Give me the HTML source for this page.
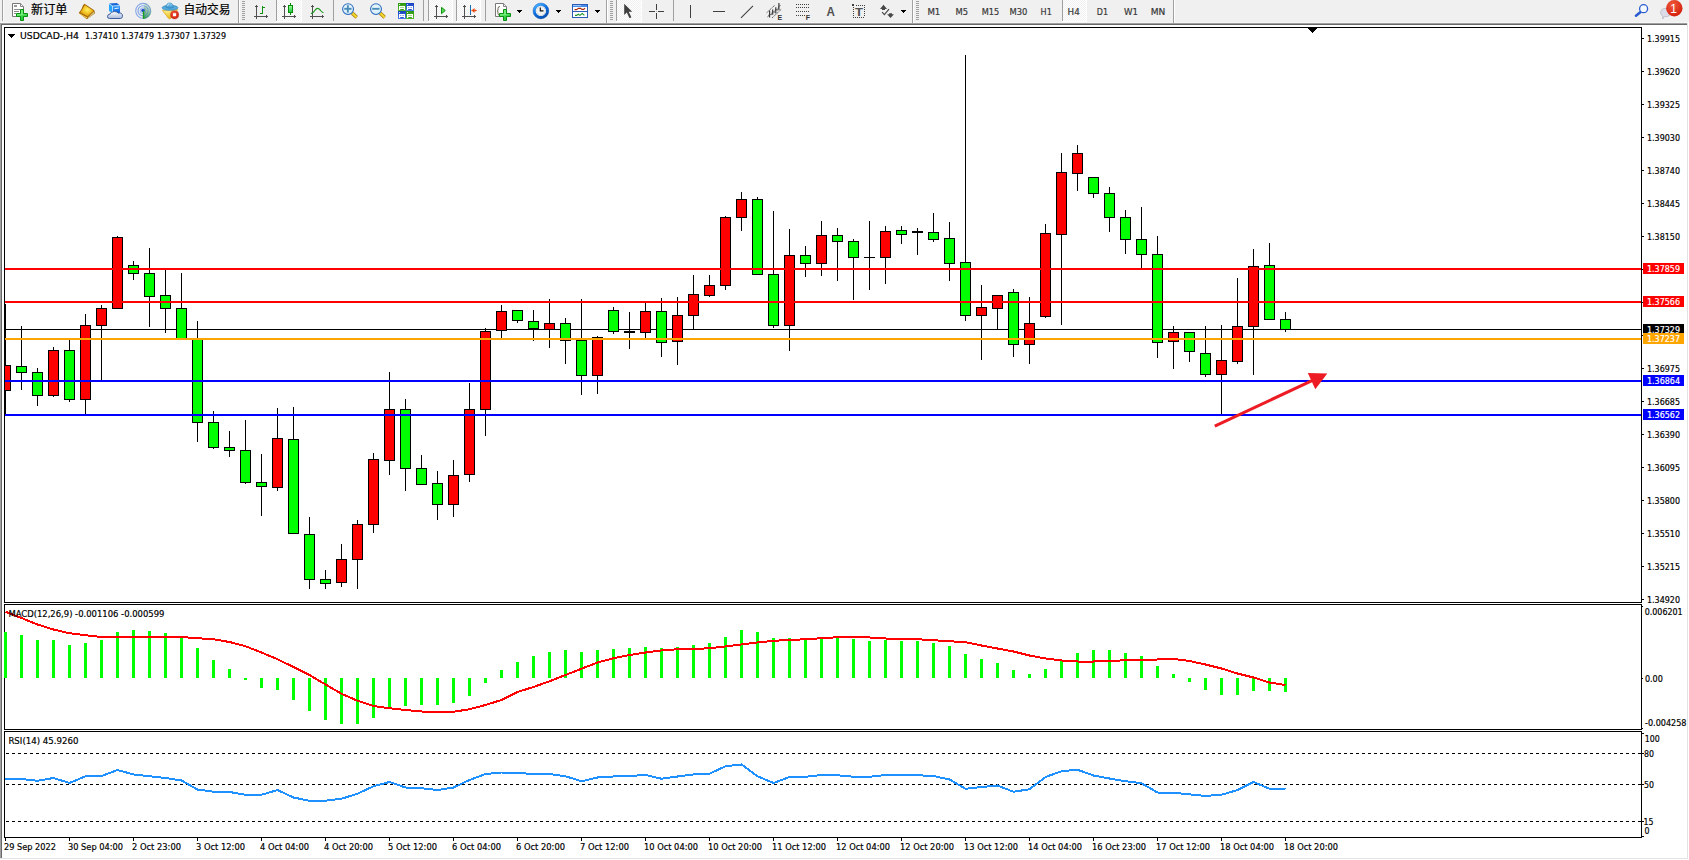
<!DOCTYPE html>
<html lang="zh-CN"><head><meta charset="utf-8"><title>USDCAD-,H4</title>
<style>html,body{margin:0;padding:0;background:#f0f0f0;overflow:hidden}svg{display:block}text{font-family:"Liberation Sans","Noto Sans CJK SC",sans-serif;white-space:pre}.ct text{stroke-width:.18px;font-family:"DejaVu Sans Condensed","DejaVu Sans","Liberation Sans",sans-serif;font-stretch:condensed}</style>
</head><body>
<svg width="1689" height="860" viewBox="0 0 1689 860">
<rect x="0" y="0" width="1689" height="860" fill="#f0f0f0"/>
<rect x="0" y="22" width="1689" height="1" fill="#f6f6f6"/>
<rect x="2" y="25" width="1685" height="833" fill="#fff"/>
<rect x="0" y="23" width="1687" height="1" fill="#a0a0a0"/>
<rect x="0" y="23" width="1" height="835" fill="#a0a0a0"/>
<rect x="1" y="24" width="1686" height="1" fill="#696969"/>
<rect x="1" y="24" width="1" height="834" fill="#696969"/>
<rect x="1687" y="23" width="1" height="836" fill="#e3e3e3"/>
<rect x="0" y="858" width="1688" height="1" fill="#e3e3e3"/>
<rect x="1688" y="22" width="1" height="838" fill="#fff"/>
<rect x="0" y="859" width="1689" height="1" fill="#fff"/>
<g shape-rendering="crispEdges">
<rect x="5" y="329" width="1636" height="1" fill="#000"/>
<rect x="5" y="304" width="1" height="112" fill="#000"/>
<rect x="5" y="365" width="6" height="26" fill="#000"/>
<rect x="5" y="366" width="5" height="24" fill="#ff0000"/>
<rect x="21" y="326" width="1" height="64" fill="#000"/>
<rect x="16" y="366" width="11" height="7" fill="#000"/>
<rect x="17" y="367" width="9" height="5" fill="#00ff00"/>
<rect x="37" y="368" width="1" height="38" fill="#000"/>
<rect x="32" y="372" width="11" height="24" fill="#000"/>
<rect x="33" y="373" width="9" height="22" fill="#00ff00"/>
<rect x="53" y="347" width="1" height="50" fill="#000"/>
<rect x="48" y="350" width="11" height="46" fill="#000"/>
<rect x="49" y="351" width="9" height="44" fill="#ff0000"/>
<rect x="69" y="340" width="1" height="62" fill="#000"/>
<rect x="64" y="350" width="11" height="50" fill="#000"/>
<rect x="65" y="351" width="9" height="48" fill="#00ff00"/>
<rect x="85" y="314" width="1" height="100" fill="#000"/>
<rect x="80" y="325" width="11" height="75" fill="#000"/>
<rect x="81" y="326" width="9" height="73" fill="#ff0000"/>
<rect x="101" y="305" width="1" height="75" fill="#000"/>
<rect x="96" y="308" width="11" height="18" fill="#000"/>
<rect x="97" y="309" width="9" height="16" fill="#ff0000"/>
<rect x="117" y="236" width="1" height="73" fill="#000"/>
<rect x="112" y="237" width="11" height="72" fill="#000"/>
<rect x="113" y="238" width="9" height="70" fill="#ff0000"/>
<rect x="133" y="261" width="1" height="19" fill="#000"/>
<rect x="128" y="265" width="11" height="9" fill="#000"/>
<rect x="129" y="266" width="9" height="7" fill="#00ff00"/>
<rect x="149" y="248" width="1" height="79" fill="#000"/>
<rect x="144" y="273" width="11" height="24" fill="#000"/>
<rect x="145" y="274" width="9" height="22" fill="#00ff00"/>
<rect x="165" y="270" width="1" height="63" fill="#000"/>
<rect x="160" y="295" width="11" height="14" fill="#000"/>
<rect x="161" y="296" width="9" height="12" fill="#00ff00"/>
<rect x="181" y="273" width="1" height="67" fill="#000"/>
<rect x="176" y="308" width="11" height="32" fill="#000"/>
<rect x="177" y="309" width="9" height="30" fill="#00ff00"/>
<rect x="197" y="321" width="1" height="121" fill="#000"/>
<rect x="192" y="338" width="11" height="85" fill="#000"/>
<rect x="193" y="339" width="9" height="83" fill="#00ff00"/>
<rect x="213" y="411" width="1" height="38" fill="#000"/>
<rect x="208" y="422" width="11" height="26" fill="#000"/>
<rect x="209" y="423" width="9" height="24" fill="#00ff00"/>
<rect x="229" y="431" width="1" height="26" fill="#000"/>
<rect x="224" y="447" width="11" height="4" fill="#000"/>
<rect x="225" y="448" width="9" height="2" fill="#00ff00"/>
<rect x="245" y="420" width="1" height="64" fill="#000"/>
<rect x="240" y="450" width="11" height="33" fill="#000"/>
<rect x="241" y="451" width="9" height="31" fill="#00ff00"/>
<rect x="261" y="454" width="1" height="62" fill="#000"/>
<rect x="256" y="482" width="11" height="5" fill="#000"/>
<rect x="257" y="483" width="9" height="3" fill="#00ff00"/>
<rect x="277" y="408" width="1" height="83" fill="#000"/>
<rect x="272" y="438" width="11" height="50" fill="#000"/>
<rect x="273" y="439" width="9" height="48" fill="#ff0000"/>
<rect x="293" y="407" width="1" height="127" fill="#000"/>
<rect x="288" y="439" width="11" height="95" fill="#000"/>
<rect x="289" y="440" width="9" height="93" fill="#00ff00"/>
<rect x="309" y="517" width="1" height="72" fill="#000"/>
<rect x="304" y="534" width="11" height="46" fill="#000"/>
<rect x="305" y="535" width="9" height="44" fill="#00ff00"/>
<rect x="325" y="570" width="1" height="19" fill="#000"/>
<rect x="320" y="579" width="11" height="5" fill="#000"/>
<rect x="321" y="580" width="9" height="3" fill="#00ff00"/>
<rect x="341" y="544" width="1" height="43" fill="#000"/>
<rect x="336" y="559" width="11" height="24" fill="#000"/>
<rect x="337" y="560" width="9" height="22" fill="#ff0000"/>
<rect x="357" y="520" width="1" height="69" fill="#000"/>
<rect x="352" y="524" width="11" height="36" fill="#000"/>
<rect x="353" y="525" width="9" height="34" fill="#ff0000"/>
<rect x="373" y="453" width="1" height="80" fill="#000"/>
<rect x="368" y="459" width="11" height="66" fill="#000"/>
<rect x="369" y="460" width="9" height="64" fill="#ff0000"/>
<rect x="389" y="372" width="1" height="103" fill="#000"/>
<rect x="384" y="409" width="11" height="52" fill="#000"/>
<rect x="385" y="410" width="9" height="50" fill="#ff0000"/>
<rect x="405" y="399" width="1" height="92" fill="#000"/>
<rect x="400" y="409" width="11" height="60" fill="#000"/>
<rect x="401" y="410" width="9" height="58" fill="#00ff00"/>
<rect x="421" y="455" width="1" height="30" fill="#000"/>
<rect x="416" y="468" width="11" height="17" fill="#000"/>
<rect x="417" y="469" width="9" height="15" fill="#00ff00"/>
<rect x="437" y="471" width="1" height="49" fill="#000"/>
<rect x="432" y="483" width="11" height="22" fill="#000"/>
<rect x="433" y="484" width="9" height="20" fill="#00ff00"/>
<rect x="453" y="460" width="1" height="57" fill="#000"/>
<rect x="448" y="475" width="11" height="30" fill="#000"/>
<rect x="449" y="476" width="9" height="28" fill="#ff0000"/>
<rect x="469" y="383" width="1" height="99" fill="#000"/>
<rect x="464" y="409" width="11" height="66" fill="#000"/>
<rect x="465" y="410" width="9" height="64" fill="#ff0000"/>
<rect x="485" y="328" width="1" height="108" fill="#000"/>
<rect x="480" y="331" width="11" height="79" fill="#000"/>
<rect x="481" y="332" width="9" height="77" fill="#ff0000"/>
<rect x="501" y="305" width="1" height="33" fill="#000"/>
<rect x="496" y="311" width="11" height="20" fill="#000"/>
<rect x="497" y="312" width="9" height="18" fill="#ff0000"/>
<rect x="517" y="310" width="1" height="13" fill="#000"/>
<rect x="512" y="310" width="11" height="11" fill="#000"/>
<rect x="513" y="311" width="9" height="9" fill="#00ff00"/>
<rect x="533" y="310" width="1" height="31" fill="#000"/>
<rect x="528" y="321" width="11" height="8" fill="#000"/>
<rect x="529" y="322" width="9" height="6" fill="#00ff00"/>
<rect x="549" y="299" width="1" height="49" fill="#000"/>
<rect x="544" y="323" width="11" height="7" fill="#000"/>
<rect x="545" y="324" width="9" height="5" fill="#ff0000"/>
<rect x="565" y="318" width="1" height="46" fill="#000"/>
<rect x="560" y="323" width="11" height="18" fill="#000"/>
<rect x="561" y="324" width="9" height="16" fill="#00ff00"/>
<rect x="581" y="299" width="1" height="96" fill="#000"/>
<rect x="576" y="340" width="11" height="36" fill="#000"/>
<rect x="577" y="341" width="9" height="34" fill="#00ff00"/>
<rect x="597" y="336" width="1" height="58" fill="#000"/>
<rect x="592" y="337" width="11" height="39" fill="#000"/>
<rect x="593" y="338" width="9" height="37" fill="#ff0000"/>
<rect x="613" y="307" width="1" height="27" fill="#000"/>
<rect x="608" y="310" width="11" height="22" fill="#000"/>
<rect x="609" y="311" width="9" height="20" fill="#00ff00"/>
<rect x="629" y="312" width="1" height="37" fill="#000"/>
<rect x="624" y="331" width="11" height="2" fill="#000"/>
<rect x="645" y="302" width="1" height="36" fill="#000"/>
<rect x="640" y="311" width="11" height="22" fill="#000"/>
<rect x="641" y="312" width="9" height="20" fill="#ff0000"/>
<rect x="661" y="298" width="1" height="59" fill="#000"/>
<rect x="656" y="311" width="11" height="32" fill="#000"/>
<rect x="657" y="312" width="9" height="30" fill="#00ff00"/>
<rect x="677" y="297" width="1" height="68" fill="#000"/>
<rect x="672" y="315" width="11" height="27" fill="#000"/>
<rect x="673" y="316" width="9" height="25" fill="#ff0000"/>
<rect x="693" y="275" width="1" height="55" fill="#000"/>
<rect x="688" y="294" width="11" height="22" fill="#000"/>
<rect x="689" y="295" width="9" height="20" fill="#ff0000"/>
<rect x="709" y="275" width="1" height="22" fill="#000"/>
<rect x="704" y="285" width="11" height="11" fill="#000"/>
<rect x="705" y="286" width="9" height="9" fill="#ff0000"/>
<rect x="725" y="216" width="1" height="74" fill="#000"/>
<rect x="720" y="217" width="11" height="69" fill="#000"/>
<rect x="721" y="218" width="9" height="67" fill="#ff0000"/>
<rect x="741" y="192" width="1" height="39" fill="#000"/>
<rect x="736" y="199" width="11" height="19" fill="#000"/>
<rect x="737" y="200" width="9" height="17" fill="#ff0000"/>
<rect x="757" y="197" width="1" height="78" fill="#000"/>
<rect x="752" y="199" width="11" height="76" fill="#000"/>
<rect x="753" y="200" width="9" height="74" fill="#00ff00"/>
<rect x="773" y="211" width="1" height="117" fill="#000"/>
<rect x="768" y="274" width="11" height="52" fill="#000"/>
<rect x="769" y="275" width="9" height="50" fill="#00ff00"/>
<rect x="789" y="229" width="1" height="122" fill="#000"/>
<rect x="784" y="255" width="11" height="71" fill="#000"/>
<rect x="785" y="256" width="9" height="69" fill="#ff0000"/>
<rect x="805" y="246" width="1" height="31" fill="#000"/>
<rect x="800" y="255" width="11" height="9" fill="#000"/>
<rect x="801" y="256" width="9" height="7" fill="#00ff00"/>
<rect x="821" y="221" width="1" height="55" fill="#000"/>
<rect x="816" y="235" width="11" height="29" fill="#000"/>
<rect x="817" y="236" width="9" height="27" fill="#ff0000"/>
<rect x="837" y="228" width="1" height="53" fill="#000"/>
<rect x="832" y="235" width="11" height="7" fill="#000"/>
<rect x="833" y="236" width="9" height="5" fill="#00ff00"/>
<rect x="853" y="239" width="1" height="61" fill="#000"/>
<rect x="848" y="241" width="11" height="17" fill="#000"/>
<rect x="849" y="242" width="9" height="15" fill="#00ff00"/>
<rect x="869" y="221" width="1" height="69" fill="#000"/>
<rect x="864" y="257" width="11" height="1" fill="#000"/>
<rect x="885" y="226" width="1" height="58" fill="#000"/>
<rect x="880" y="231" width="11" height="27" fill="#000"/>
<rect x="881" y="232" width="9" height="25" fill="#ff0000"/>
<rect x="901" y="226" width="1" height="18" fill="#000"/>
<rect x="896" y="230" width="11" height="5" fill="#000"/>
<rect x="897" y="231" width="9" height="3" fill="#00ff00"/>
<rect x="917" y="228" width="1" height="27" fill="#000"/>
<rect x="912" y="231" width="11" height="2" fill="#000"/>
<rect x="933" y="213" width="1" height="29" fill="#000"/>
<rect x="928" y="232" width="11" height="8" fill="#000"/>
<rect x="929" y="233" width="9" height="6" fill="#00ff00"/>
<rect x="949" y="222" width="1" height="59" fill="#000"/>
<rect x="944" y="238" width="11" height="26" fill="#000"/>
<rect x="945" y="239" width="9" height="24" fill="#00ff00"/>
<rect x="965" y="55" width="1" height="266" fill="#000"/>
<rect x="960" y="262" width="11" height="54" fill="#000"/>
<rect x="961" y="263" width="9" height="52" fill="#00ff00"/>
<rect x="981" y="285" width="1" height="75" fill="#000"/>
<rect x="976" y="307" width="11" height="9" fill="#000"/>
<rect x="977" y="308" width="9" height="7" fill="#ff0000"/>
<rect x="997" y="295" width="1" height="35" fill="#000"/>
<rect x="992" y="295" width="11" height="14" fill="#000"/>
<rect x="993" y="296" width="9" height="12" fill="#ff0000"/>
<rect x="1013" y="289" width="1" height="68" fill="#000"/>
<rect x="1008" y="292" width="11" height="53" fill="#000"/>
<rect x="1009" y="293" width="9" height="51" fill="#00ff00"/>
<rect x="1029" y="297" width="1" height="67" fill="#000"/>
<rect x="1024" y="323" width="11" height="22" fill="#000"/>
<rect x="1025" y="324" width="9" height="20" fill="#ff0000"/>
<rect x="1045" y="224" width="1" height="94" fill="#000"/>
<rect x="1040" y="233" width="11" height="84" fill="#000"/>
<rect x="1041" y="234" width="9" height="82" fill="#ff0000"/>
<rect x="1061" y="153" width="1" height="172" fill="#000"/>
<rect x="1056" y="172" width="11" height="63" fill="#000"/>
<rect x="1057" y="173" width="9" height="61" fill="#ff0000"/>
<rect x="1077" y="145" width="1" height="46" fill="#000"/>
<rect x="1072" y="153" width="11" height="21" fill="#000"/>
<rect x="1073" y="154" width="9" height="19" fill="#ff0000"/>
<rect x="1093" y="177" width="1" height="21" fill="#000"/>
<rect x="1088" y="177" width="11" height="17" fill="#000"/>
<rect x="1089" y="178" width="9" height="15" fill="#00ff00"/>
<rect x="1109" y="187" width="1" height="45" fill="#000"/>
<rect x="1104" y="193" width="11" height="25" fill="#000"/>
<rect x="1105" y="194" width="9" height="23" fill="#00ff00"/>
<rect x="1125" y="210" width="1" height="44" fill="#000"/>
<rect x="1120" y="217" width="11" height="23" fill="#000"/>
<rect x="1121" y="218" width="9" height="21" fill="#00ff00"/>
<rect x="1141" y="207" width="1" height="61" fill="#000"/>
<rect x="1136" y="239" width="11" height="16" fill="#000"/>
<rect x="1137" y="240" width="9" height="14" fill="#00ff00"/>
<rect x="1157" y="236" width="1" height="122" fill="#000"/>
<rect x="1152" y="254" width="11" height="89" fill="#000"/>
<rect x="1153" y="255" width="9" height="87" fill="#00ff00"/>
<rect x="1173" y="326" width="1" height="43" fill="#000"/>
<rect x="1168" y="332" width="11" height="10" fill="#000"/>
<rect x="1169" y="333" width="9" height="8" fill="#ff0000"/>
<rect x="1189" y="332" width="1" height="30" fill="#000"/>
<rect x="1184" y="332" width="11" height="20" fill="#000"/>
<rect x="1185" y="333" width="9" height="18" fill="#00ff00"/>
<rect x="1205" y="326" width="1" height="51" fill="#000"/>
<rect x="1200" y="353" width="11" height="22" fill="#000"/>
<rect x="1201" y="354" width="9" height="20" fill="#00ff00"/>
<rect x="1221" y="325" width="1" height="90" fill="#000"/>
<rect x="1216" y="360" width="11" height="15" fill="#000"/>
<rect x="1217" y="361" width="9" height="13" fill="#ff0000"/>
<rect x="1237" y="278" width="1" height="86" fill="#000"/>
<rect x="1232" y="326" width="11" height="36" fill="#000"/>
<rect x="1233" y="327" width="9" height="34" fill="#ff0000"/>
<rect x="1253" y="249" width="1" height="126" fill="#000"/>
<rect x="1248" y="266" width="11" height="61" fill="#000"/>
<rect x="1249" y="267" width="9" height="59" fill="#ff0000"/>
<rect x="1269" y="243" width="1" height="77" fill="#000"/>
<rect x="1264" y="265" width="11" height="55" fill="#000"/>
<rect x="1265" y="266" width="9" height="53" fill="#00ff00"/>
<rect x="1285" y="312" width="1" height="20" fill="#000"/>
<rect x="1280" y="319" width="11" height="11" fill="#000"/>
<rect x="1281" y="320" width="9" height="9" fill="#00ff00"/>
<rect x="5" y="268" width="1636" height="2" fill="#ff0000"/>
<rect x="5" y="301" width="1636" height="2" fill="#ff0000"/>
<rect x="5" y="338" width="1636" height="2" fill="#ffa500"/>
<rect x="5" y="380" width="1636" height="2" fill="#0000ff"/>
<rect x="5" y="414" width="1636" height="2" fill="#0000ff"/>
<rect x="4" y="27" width="1638" height="1" fill="#000"/>
<rect x="4" y="602" width="1638" height="1" fill="#000"/>
<rect x="4" y="27" width="1" height="576" fill="#000"/>
<rect x="1641" y="27" width="1" height="576" fill="#000"/>
<rect x="4" y="604" width="1638" height="1" fill="#000"/>
<rect x="4" y="729" width="1638" height="1" fill="#000"/>
<rect x="4" y="604" width="1" height="126" fill="#000"/>
<rect x="1641" y="604" width="1" height="126" fill="#000"/>
<rect x="4" y="731" width="1638" height="1" fill="#000"/>
<rect x="4" y="837" width="1638" height="1" fill="#000"/>
<rect x="4" y="731" width="1" height="107" fill="#000"/>
<rect x="1641" y="731" width="1" height="107" fill="#000"/>
<rect x="1308" y="28" width="9" height="1" fill="#000"/>
<rect x="1309" y="29" width="7" height="1" fill="#000"/>
<rect x="1310" y="30" width="5" height="1" fill="#000"/>
<rect x="1311" y="31" width="3" height="1" fill="#000"/>
<rect x="1312" y="32" width="1" height="1" fill="#000"/>
<rect x="8" y="34" width="7" height="1" fill="#000"/>
<rect x="9" y="35" width="5" height="1" fill="#000"/>
<rect x="10" y="36" width="3" height="1" fill="#000"/>
<rect x="11" y="37" width="1" height="1" fill="#000"/>
<rect x="1642" y="38" width="2" height="1" fill="#000"/>
<rect x="1642" y="71" width="2" height="1" fill="#000"/>
<rect x="1642" y="104" width="2" height="1" fill="#000"/>
<rect x="1642" y="137" width="2" height="1" fill="#000"/>
<rect x="1642" y="170" width="2" height="1" fill="#000"/>
<rect x="1642" y="203" width="2" height="1" fill="#000"/>
<rect x="1642" y="236" width="2" height="1" fill="#000"/>
<rect x="1642" y="269" width="2" height="1" fill="#000"/>
<rect x="1642" y="302" width="2" height="1" fill="#000"/>
<rect x="1642" y="335" width="2" height="1" fill="#000"/>
<rect x="1642" y="368" width="2" height="1" fill="#000"/>
<rect x="1642" y="401" width="2" height="1" fill="#000"/>
<rect x="1642" y="434" width="2" height="1" fill="#000"/>
<rect x="1642" y="467" width="2" height="1" fill="#000"/>
<rect x="1642" y="500" width="2" height="1" fill="#000"/>
<rect x="1642" y="533" width="2" height="1" fill="#000"/>
<rect x="1642" y="566" width="2" height="1" fill="#000"/>
<rect x="1642" y="599" width="2" height="1" fill="#000"/>
<rect x="1642" y="606" width="1" height="1" fill="#000"/>
<rect x="1642" y="678" width="1" height="1" fill="#000"/>
<rect x="1642" y="728" width="1" height="1" fill="#000"/>
<rect x="1642" y="733" width="2" height="1" fill="#000"/>
<rect x="1642" y="753" width="2" height="1" fill="#000"/>
<rect x="1642" y="784" width="2" height="1" fill="#000"/>
<rect x="1642" y="821" width="2" height="1" fill="#000"/>
<rect x="1642" y="836" width="2" height="1" fill="#000"/>
<rect x="1643" y="263" width="41" height="11" fill="#ff0000"/>
<rect x="1643" y="296" width="41" height="11" fill="#ff0000"/>
<rect x="1643" y="324" width="41" height="11" fill="#000000"/>
<rect x="1643" y="333" width="41" height="11" fill="#ffa500"/>
<rect x="1643" y="375" width="41" height="11" fill="#0000ff"/>
<rect x="1643" y="409" width="41" height="11" fill="#0000ff"/>
<rect x="4" y="632" width="3" height="46" fill="#00ff00"/>
<rect x="20" y="635" width="3" height="43" fill="#00ff00"/>
<rect x="36" y="640" width="3" height="38" fill="#00ff00"/>
<rect x="52" y="640" width="3" height="38" fill="#00ff00"/>
<rect x="68" y="645" width="3" height="33" fill="#00ff00"/>
<rect x="84" y="643" width="3" height="35" fill="#00ff00"/>
<rect x="100" y="640" width="3" height="38" fill="#00ff00"/>
<rect x="116" y="632" width="3" height="46" fill="#00ff00"/>
<rect x="132" y="630" width="3" height="48" fill="#00ff00"/>
<rect x="148" y="631" width="3" height="47" fill="#00ff00"/>
<rect x="164" y="633" width="3" height="45" fill="#00ff00"/>
<rect x="180" y="638" width="3" height="40" fill="#00ff00"/>
<rect x="196" y="648" width="3" height="30" fill="#00ff00"/>
<rect x="212" y="660" width="3" height="18" fill="#00ff00"/>
<rect x="228" y="669" width="3" height="9" fill="#00ff00"/>
<rect x="244" y="678" width="3" height="2" fill="#00ff00"/>
<rect x="260" y="678" width="3" height="10" fill="#00ff00"/>
<rect x="276" y="678" width="3" height="12" fill="#00ff00"/>
<rect x="292" y="678" width="3" height="22" fill="#00ff00"/>
<rect x="308" y="678" width="3" height="33" fill="#00ff00"/>
<rect x="324" y="678" width="3" height="42" fill="#00ff00"/>
<rect x="340" y="678" width="3" height="46" fill="#00ff00"/>
<rect x="356" y="678" width="3" height="46" fill="#00ff00"/>
<rect x="372" y="678" width="3" height="40" fill="#00ff00"/>
<rect x="388" y="678" width="3" height="30" fill="#00ff00"/>
<rect x="404" y="678" width="3" height="28" fill="#00ff00"/>
<rect x="420" y="678" width="3" height="27" fill="#00ff00"/>
<rect x="436" y="678" width="3" height="27" fill="#00ff00"/>
<rect x="452" y="678" width="3" height="25" fill="#00ff00"/>
<rect x="468" y="678" width="3" height="18" fill="#00ff00"/>
<rect x="484" y="678" width="3" height="5" fill="#00ff00"/>
<rect x="500" y="670" width="3" height="8" fill="#00ff00"/>
<rect x="516" y="662" width="3" height="16" fill="#00ff00"/>
<rect x="532" y="656" width="3" height="22" fill="#00ff00"/>
<rect x="548" y="652" width="3" height="26" fill="#00ff00"/>
<rect x="564" y="650" width="3" height="28" fill="#00ff00"/>
<rect x="580" y="652" width="3" height="26" fill="#00ff00"/>
<rect x="596" y="650" width="3" height="28" fill="#00ff00"/>
<rect x="612" y="649" width="3" height="29" fill="#00ff00"/>
<rect x="628" y="648" width="3" height="30" fill="#00ff00"/>
<rect x="644" y="647" width="3" height="31" fill="#00ff00"/>
<rect x="660" y="648" width="3" height="30" fill="#00ff00"/>
<rect x="676" y="647" width="3" height="31" fill="#00ff00"/>
<rect x="692" y="645" width="3" height="33" fill="#00ff00"/>
<rect x="708" y="643" width="3" height="35" fill="#00ff00"/>
<rect x="724" y="637" width="3" height="41" fill="#00ff00"/>
<rect x="740" y="630" width="3" height="48" fill="#00ff00"/>
<rect x="756" y="632" width="3" height="46" fill="#00ff00"/>
<rect x="772" y="638" width="3" height="40" fill="#00ff00"/>
<rect x="788" y="638" width="3" height="40" fill="#00ff00"/>
<rect x="804" y="638" width="3" height="40" fill="#00ff00"/>
<rect x="820" y="637" width="3" height="41" fill="#00ff00"/>
<rect x="836" y="638" width="3" height="40" fill="#00ff00"/>
<rect x="852" y="639" width="3" height="39" fill="#00ff00"/>
<rect x="868" y="641" width="3" height="37" fill="#00ff00"/>
<rect x="884" y="640" width="3" height="38" fill="#00ff00"/>
<rect x="900" y="641" width="3" height="37" fill="#00ff00"/>
<rect x="916" y="641" width="3" height="37" fill="#00ff00"/>
<rect x="932" y="643" width="3" height="35" fill="#00ff00"/>
<rect x="948" y="646" width="3" height="32" fill="#00ff00"/>
<rect x="964" y="654" width="3" height="24" fill="#00ff00"/>
<rect x="980" y="659" width="3" height="19" fill="#00ff00"/>
<rect x="996" y="663" width="3" height="15" fill="#00ff00"/>
<rect x="1012" y="670" width="3" height="8" fill="#00ff00"/>
<rect x="1028" y="674" width="3" height="4" fill="#00ff00"/>
<rect x="1044" y="669" width="3" height="9" fill="#00ff00"/>
<rect x="1060" y="660" width="3" height="18" fill="#00ff00"/>
<rect x="1076" y="653" width="3" height="25" fill="#00ff00"/>
<rect x="1092" y="650" width="3" height="28" fill="#00ff00"/>
<rect x="1108" y="650" width="3" height="28" fill="#00ff00"/>
<rect x="1124" y="653" width="3" height="25" fill="#00ff00"/>
<rect x="1140" y="656" width="3" height="22" fill="#00ff00"/>
<rect x="1156" y="666" width="3" height="12" fill="#00ff00"/>
<rect x="1172" y="674" width="3" height="4" fill="#00ff00"/>
<rect x="1188" y="678" width="3" height="4" fill="#00ff00"/>
<rect x="1204" y="678" width="3" height="12" fill="#00ff00"/>
<rect x="1220" y="678" width="3" height="17" fill="#00ff00"/>
<rect x="1236" y="678" width="3" height="17" fill="#00ff00"/>
<rect x="1252" y="678" width="3" height="13" fill="#00ff00"/>
<rect x="1268" y="678" width="3" height="13" fill="#00ff00"/>
<rect x="1284" y="678" width="3" height="14" fill="#00ff00"/>
<path d="M6 753.5H1644" stroke="#000" stroke-width="1" stroke-dasharray="3 3" fill="none"/>
<path d="M6 784.5H1644" stroke="#000" stroke-width="1" stroke-dasharray="3 3" fill="none"/>
<path d="M6 821.5H1644" stroke="#000" stroke-width="1" stroke-dasharray="3 3" fill="none"/>
<rect x="5" y="838" width="1" height="3" fill="#000"/>
<rect x="69" y="838" width="1" height="3" fill="#000"/>
<rect x="133" y="838" width="1" height="3" fill="#000"/>
<rect x="197" y="838" width="1" height="3" fill="#000"/>
<rect x="261" y="838" width="1" height="3" fill="#000"/>
<rect x="325" y="838" width="1" height="3" fill="#000"/>
<rect x="389" y="838" width="1" height="3" fill="#000"/>
<rect x="453" y="838" width="1" height="3" fill="#000"/>
<rect x="517" y="838" width="1" height="3" fill="#000"/>
<rect x="581" y="838" width="1" height="3" fill="#000"/>
<rect x="645" y="838" width="1" height="3" fill="#000"/>
<rect x="709" y="838" width="1" height="3" fill="#000"/>
<rect x="773" y="838" width="1" height="3" fill="#000"/>
<rect x="837" y="838" width="1" height="3" fill="#000"/>
<rect x="901" y="838" width="1" height="3" fill="#000"/>
<rect x="965" y="838" width="1" height="3" fill="#000"/>
<rect x="1029" y="838" width="1" height="3" fill="#000"/>
<rect x="1093" y="838" width="1" height="3" fill="#000"/>
<rect x="1157" y="838" width="1" height="3" fill="#000"/>
<rect x="1221" y="838" width="1" height="3" fill="#000"/>
<rect x="1285" y="838" width="1" height="3" fill="#000"/>
<polyline points="5.5,611.75 21.5,618 37.5,624.5 53.5,629.5 69.5,633.25 85.5,635.25 101.5,637 117.5,637 133.5,637 149.5,637 165.5,637 181.5,637 197.5,638.25 213.5,639.25 229.5,642 245.5,646.25 261.5,652.5 277.5,659.25 293.5,667 309.5,675 325.5,684.5 341.5,693.75 357.5,700.75 373.5,706 389.5,708.25 405.5,710 421.5,711.5 437.5,711.75 453.5,711.75 469.5,709.25 485.5,705 501.5,700 517.5,692 533.5,687 549.5,681.25 565.5,675 581.5,668.75 597.5,662.5 613.5,658.25 629.5,655 645.5,652.5 661.5,650.5 677.5,649.25 693.5,649 709.5,648.25 725.5,646.5 741.5,644.5 757.5,642.5 773.5,640.75 789.5,640 805.5,639.25 821.5,638.25 837.5,637.25 853.5,637 869.5,637.5 885.5,638.5 901.5,639 917.5,639.25 933.5,640.25 949.5,641.25 965.5,642.25 981.5,645.5 997.5,648.5 1013.5,651.5 1029.5,655.5 1045.5,658.5 1061.5,660.5 1077.5,661.5 1093.5,661.5 1109.5,661 1125.5,660.25 1141.5,660 1157.5,659.5 1173.5,659 1189.5,661 1205.5,664.5 1221.5,668.5 1237.5,673.5 1253.5,677.5 1269.5,682.5 1285.5,685" fill="none" stroke="#ff0000" stroke-width="2" stroke-linejoin="round"/>
<polyline points="5.5,778.75 21.5,779 37.5,780.75 53.5,778 69.5,783 85.5,776.25 101.5,776 117.5,770 133.5,774.5 149.5,776.25 165.5,778 181.5,780.5 197.5,789.5 213.5,791.75 229.5,792 245.5,794.75 261.5,794.75 277.5,790 293.5,797.5 309.5,800.75 325.5,800.75 341.5,798.75 357.5,793.75 373.5,786.25 389.5,782 405.5,787.5 421.5,788.25 437.5,790 453.5,787.5 469.5,780 485.5,774 501.5,772.5 517.5,773.25 533.5,773.75 549.5,774 565.5,776.25 581.5,781.25 597.5,777.5 613.5,776.5 629.5,776 645.5,775 661.5,778.75 677.5,776.5 693.5,774.5 709.5,773.75 725.5,766.25 741.5,764.5 757.5,776.25 773.5,783 789.5,777 805.5,776.75 821.5,775 837.5,775.25 853.5,776.75 869.5,776.75 885.5,775 901.5,775 917.5,775.25 933.5,776 949.5,779.5 965.5,788.75 981.5,787 997.5,785.5 1013.5,791.75 1029.5,789.25 1045.5,777 1061.5,771.25 1077.5,769.75 1093.5,775.5 1109.5,778.5 1125.5,781.25 1141.5,783.25 1157.5,792.5 1173.5,792.75 1189.5,794.4 1205.5,795.9 1221.5,794.75 1237.5,790 1253.5,781.9 1269.5,788.75 1285.5,789" fill="none" stroke="#1e90ff" stroke-width="2" stroke-linejoin="round"/>
</g>
<path d="M1214.8 426.1L1312 380.6" stroke="#ed1c24" stroke-width="3" fill="none"/>
<path d="M1307.8 373.1L1327.3 373.4L1315.3 389.2Z" fill="#ed1c24"/>
<g class="ct">
<text x="1647" y="42" font-size="9" fill="#000" stroke="#000" textLength="33" lengthAdjust="spacingAndGlyphs" xml:space="preserve">1.39915</text>
<text x="1647" y="75" font-size="9" fill="#000" stroke="#000" textLength="33" lengthAdjust="spacingAndGlyphs" xml:space="preserve">1.39620</text>
<text x="1647" y="108" font-size="9" fill="#000" stroke="#000" textLength="33" lengthAdjust="spacingAndGlyphs" xml:space="preserve">1.39325</text>
<text x="1647" y="141" font-size="9" fill="#000" stroke="#000" textLength="33" lengthAdjust="spacingAndGlyphs" xml:space="preserve">1.39030</text>
<text x="1647" y="174" font-size="9" fill="#000" stroke="#000" textLength="33" lengthAdjust="spacingAndGlyphs" xml:space="preserve">1.38740</text>
<text x="1647" y="207" font-size="9" fill="#000" stroke="#000" textLength="33" lengthAdjust="spacingAndGlyphs" xml:space="preserve">1.38445</text>
<text x="1647" y="240" font-size="9" fill="#000" stroke="#000" textLength="33" lengthAdjust="spacingAndGlyphs" xml:space="preserve">1.38150</text>
<text x="1647" y="372" font-size="9" fill="#000" stroke="#000" textLength="33" lengthAdjust="spacingAndGlyphs" xml:space="preserve">1.36975</text>
<text x="1647" y="405" font-size="9" fill="#000" stroke="#000" textLength="33" lengthAdjust="spacingAndGlyphs" xml:space="preserve">1.36685</text>
<text x="1647" y="438" font-size="9" fill="#000" stroke="#000" textLength="33" lengthAdjust="spacingAndGlyphs" xml:space="preserve">1.36390</text>
<text x="1647" y="471" font-size="9" fill="#000" stroke="#000" textLength="33" lengthAdjust="spacingAndGlyphs" xml:space="preserve">1.36095</text>
<text x="1647" y="504" font-size="9" fill="#000" stroke="#000" textLength="33" lengthAdjust="spacingAndGlyphs" xml:space="preserve">1.35800</text>
<text x="1647" y="537" font-size="9" fill="#000" stroke="#000" textLength="33" lengthAdjust="spacingAndGlyphs" xml:space="preserve">1.35510</text>
<text x="1647" y="570" font-size="9" fill="#000" stroke="#000" textLength="33" lengthAdjust="spacingAndGlyphs" xml:space="preserve">1.35215</text>
<text x="1647" y="603" font-size="9" fill="#000" stroke="#000" textLength="33" lengthAdjust="spacingAndGlyphs" xml:space="preserve">1.34920</text>
<text x="1647" y="272" font-size="9" fill="#fff" stroke="#fff" textLength="33" lengthAdjust="spacingAndGlyphs" xml:space="preserve">1.37859</text>
<text x="1647" y="305" font-size="9" fill="#fff" stroke="#fff" textLength="33" lengthAdjust="spacingAndGlyphs" xml:space="preserve">1.37566</text>
<text x="1647" y="333" font-size="9" fill="#fff" stroke="#fff" textLength="33" lengthAdjust="spacingAndGlyphs" xml:space="preserve">1.37329</text>
<text x="1647" y="342" font-size="9" fill="#fff" stroke="#fff" textLength="33" lengthAdjust="spacingAndGlyphs" xml:space="preserve">1.37237</text>
<text x="1647" y="384" font-size="9" fill="#fff" stroke="#fff" textLength="33" lengthAdjust="spacingAndGlyphs" xml:space="preserve">1.36864</text>
<text x="1647" y="418" font-size="9" fill="#fff" stroke="#fff" textLength="33" lengthAdjust="spacingAndGlyphs" xml:space="preserve">1.36562</text>
<text x="1644.7" y="615" font-size="9" fill="#000" stroke="#000" textLength="38" lengthAdjust="spacingAndGlyphs" xml:space="preserve">0.006201</text>
<text x="1644.9" y="682" font-size="9" fill="#000" stroke="#000" textLength="18" lengthAdjust="spacingAndGlyphs" xml:space="preserve">0.00</text>
<text x="1645" y="726" font-size="9" fill="#000" stroke="#000" textLength="41.5" lengthAdjust="spacingAndGlyphs" xml:space="preserve">-0.004258</text>
<text x="1644.8" y="742" font-size="9" fill="#000" stroke="#000" textLength="15" lengthAdjust="spacingAndGlyphs" xml:space="preserve">100</text>
<text x="1643.9" y="757" font-size="9" fill="#000" stroke="#000" textLength="10" lengthAdjust="spacingAndGlyphs" xml:space="preserve">80</text>
<text x="1643.9" y="788" font-size="9" fill="#000" stroke="#000" textLength="10" lengthAdjust="spacingAndGlyphs" xml:space="preserve">50</text>
<text x="1643.5" y="825" font-size="9" fill="#000" stroke="#000" textLength="10" lengthAdjust="spacingAndGlyphs" xml:space="preserve">15</text>
<text x="1644.4" y="834" font-size="9" fill="#000" stroke="#000" textLength="5" lengthAdjust="spacingAndGlyphs" xml:space="preserve">0</text>
<text x="20" y="39" font-size="9" fill="#000" stroke="#000" textLength="59" lengthAdjust="spacingAndGlyphs" xml:space="preserve">USDCAD-,H4</text>
<text x="85" y="39" font-size="9" fill="#000" stroke="#000" textLength="33" lengthAdjust="spacingAndGlyphs" xml:space="preserve">1.37410</text>
<text x="121" y="39" font-size="9" fill="#000" stroke="#000" textLength="33" lengthAdjust="spacingAndGlyphs" xml:space="preserve">1.37479</text>
<text x="157" y="39" font-size="9" fill="#000" stroke="#000" textLength="33" lengthAdjust="spacingAndGlyphs" xml:space="preserve">1.37307</text>
<text x="193" y="39" font-size="9" fill="#000" stroke="#000" textLength="33" lengthAdjust="spacingAndGlyphs" xml:space="preserve">1.37329</text>
<text x="8.4" y="617" font-size="9" fill="#000" stroke="#000" textLength="156" lengthAdjust="spacingAndGlyphs" xml:space="preserve">MACD(12,26,9) -0.001106 -0.000599</text>
<text x="8.4" y="744" font-size="9" fill="#000" stroke="#000" textLength="70" lengthAdjust="spacingAndGlyphs" xml:space="preserve">RSI(14) 45.9260</text>
<text x="4" y="850" font-size="9" fill="#000" stroke="#000" textLength="52" lengthAdjust="spacingAndGlyphs" xml:space="preserve">29 Sep 2022</text>
<text x="68" y="850" font-size="9" fill="#000" stroke="#000" textLength="55" lengthAdjust="spacingAndGlyphs" xml:space="preserve">30 Sep 04:00</text>
<text x="132" y="850" font-size="9" fill="#000" stroke="#000" textLength="49" lengthAdjust="spacingAndGlyphs" xml:space="preserve">2 Oct 23:00</text>
<text x="196" y="850" font-size="9" fill="#000" stroke="#000" textLength="49" lengthAdjust="spacingAndGlyphs" xml:space="preserve">3 Oct 12:00</text>
<text x="260" y="850" font-size="9" fill="#000" stroke="#000" textLength="49" lengthAdjust="spacingAndGlyphs" xml:space="preserve">4 Oct 04:00</text>
<text x="324" y="850" font-size="9" fill="#000" stroke="#000" textLength="49" lengthAdjust="spacingAndGlyphs" xml:space="preserve">4 Oct 20:00</text>
<text x="388" y="850" font-size="9" fill="#000" stroke="#000" textLength="49" lengthAdjust="spacingAndGlyphs" xml:space="preserve">5 Oct 12:00</text>
<text x="452" y="850" font-size="9" fill="#000" stroke="#000" textLength="49" lengthAdjust="spacingAndGlyphs" xml:space="preserve">6 Oct 04:00</text>
<text x="516" y="850" font-size="9" fill="#000" stroke="#000" textLength="49" lengthAdjust="spacingAndGlyphs" xml:space="preserve">6 Oct 20:00</text>
<text x="580" y="850" font-size="9" fill="#000" stroke="#000" textLength="49" lengthAdjust="spacingAndGlyphs" xml:space="preserve">7 Oct 12:00</text>
<text x="644" y="850" font-size="9" fill="#000" stroke="#000" textLength="54" lengthAdjust="spacingAndGlyphs" xml:space="preserve">10 Oct 04:00</text>
<text x="708" y="850" font-size="9" fill="#000" stroke="#000" textLength="54" lengthAdjust="spacingAndGlyphs" xml:space="preserve">10 Oct 20:00</text>
<text x="772" y="850" font-size="9" fill="#000" stroke="#000" textLength="54" lengthAdjust="spacingAndGlyphs" xml:space="preserve">11 Oct 12:00</text>
<text x="836" y="850" font-size="9" fill="#000" stroke="#000" textLength="54" lengthAdjust="spacingAndGlyphs" xml:space="preserve">12 Oct 04:00</text>
<text x="900" y="850" font-size="9" fill="#000" stroke="#000" textLength="54" lengthAdjust="spacingAndGlyphs" xml:space="preserve">12 Oct 20:00</text>
<text x="964" y="850" font-size="9" fill="#000" stroke="#000" textLength="54" lengthAdjust="spacingAndGlyphs" xml:space="preserve">13 Oct 12:00</text>
<text x="1028" y="850" font-size="9" fill="#000" stroke="#000" textLength="54" lengthAdjust="spacingAndGlyphs" xml:space="preserve">14 Oct 04:00</text>
<text x="1092" y="850" font-size="9" fill="#000" stroke="#000" textLength="54" lengthAdjust="spacingAndGlyphs" xml:space="preserve">16 Oct 23:00</text>
<text x="1156" y="850" font-size="9" fill="#000" stroke="#000" textLength="54" lengthAdjust="spacingAndGlyphs" xml:space="preserve">17 Oct 12:00</text>
<text x="1220" y="850" font-size="9" fill="#000" stroke="#000" textLength="54" lengthAdjust="spacingAndGlyphs" xml:space="preserve">18 Oct 04:00</text>
<text x="1284" y="850" font-size="9" fill="#000" stroke="#000" textLength="54" lengthAdjust="spacingAndGlyphs" xml:space="preserve">18 Oct 20:00</text>
</g>
<g id="toolbar">
<defs>
<pattern id="chk" width="2" height="2" patternUnits="userSpaceOnUse"><rect width="2" height="2" fill="#fff"/><rect width="1" height="1" fill="#f0f0f0"/><rect x="1" y="1" width="1" height="1" fill="#f0f0f0"/></pattern>
<linearGradient id="gG" x1="0" y1="0" x2="0" y2="1"><stop offset="0" stop-color="#a0ffa0"/><stop offset="1" stop-color="#18c838"/></linearGradient>
<linearGradient id="gPlus" x1="0" y1="0" x2="1" y2="1"><stop offset="0" stop-color="#7dff7d"/><stop offset="1" stop-color="#00b418"/></linearGradient>
<radialGradient id="gGold" cx="0.55" cy="0.42" r="0.6"><stop offset="0" stop-color="#fff066"/><stop offset="0.5" stop-color="#f2c626"/><stop offset="1" stop-color="#d8960c"/></radialGradient>
<linearGradient id="gBlue" x1="0" y1="0" x2="0" y2="1"><stop offset="0" stop-color="#3aa0ff"/><stop offset="1" stop-color="#0a5fd8"/></linearGradient>
<linearGradient id="gCloud" x1="0" y1="0" x2="0" y2="1"><stop offset="0" stop-color="#ffffff"/><stop offset="1" stop-color="#a8b8d8"/></linearGradient>
<linearGradient id="gHat" x1="0" y1="0" x2="0" y2="1"><stop offset="0" stop-color="#8fd0f4"/><stop offset="1" stop-color="#3a8fd0"/></linearGradient>
<linearGradient id="gYel" x1="0" y1="0" x2="0" y2="1"><stop offset="0" stop-color="#fff29a"/><stop offset="1" stop-color="#e8b810"/></linearGradient>
<radialGradient id="gRed" cx="0.4" cy="0.3" r="0.8"><stop offset="0" stop-color="#f05a3a"/><stop offset="1" stop-color="#d01808"/></radialGradient>
<radialGradient id="gLens" cx="0.45" cy="0.4" r="0.7"><stop offset="0" stop-color="#f4fcff"/><stop offset="1" stop-color="#c4e6f8"/></radialGradient>
<linearGradient id="gGreenT" x1="0" y1="0" x2="0" y2="1"><stop offset="0" stop-color="#2c9810"/><stop offset="1" stop-color="#54bc30"/></linearGradient>
<linearGradient id="gBlueT" x1="0" y1="0" x2="0" y2="1"><stop offset="0" stop-color="#1840c0"/><stop offset="1" stop-color="#4c80ec"/></linearGradient>
<linearGradient id="gSig" x1="0" y1="1" x2="0.25" y2="0"><stop offset="0" stop-color="#249e24"/><stop offset=".5" stop-color="#84c684" stop-opacity=".9"/><stop offset="1" stop-color="#d4e6d4" stop-opacity=".7"/></linearGradient>
<linearGradient id="gClk" x1="0.2" y1="0" x2="0.8" y2="1"><stop offset="0" stop-color="#46acff"/><stop offset=".5" stop-color="#0c6cdc"/><stop offset="1" stop-color="#0a50b0"/></linearGradient>
</defs>
<rect x="2" y="0" width="1" height="21" fill="#a0a0a0"/>
<rect x="3" y="0" width="1" height="21" fill="#fafafa"/>
<path d="M12.5 3.5h8l3 3v10h-11z" fill="#fff" stroke="#787878"/>
<path d="M20.5 3.7v2.8h2.8" fill="#f4f4f4" stroke="#787878" stroke-width=".9"/>
<rect x="14" y="5" width="3" height="2" fill="#9a9a9a"/>
<rect x="14" y="9" width="6" height="1" fill="#8c8c8c"/>
<rect x="14" y="11" width="5" height="1" fill="#8c8c8c"/>
<rect x="14" y="13" width="2" height="1" fill="#8c8c8c"/>
<path d="M20.5 9.5h3v4h4v3h-4v4h-3v-4h-4v-3h4z" fill="url(#gPlus)" stroke="#0a8f14" stroke-width="1"/>
<path d="M21.4 10.4h1.2v4h-1.2zM17.4 14.4h9.2v.9h-9.2z" fill="#b8ffb8" opacity=".55"/>
<path d="M84.5 3.8L94.3 10.3L95.1 13.3L86.9 19.3L78.7 13.1Q82 9.4 83.1 5Z" fill="#a66808"/>
<path d="M88 17.4L93.9 11.4L94.4 13L88 18.5Z" fill="#ece2a8"/>
<path d="M88 17.95L94.1 12.2" stroke="#b89a48" stroke-width=".5"/>
<path d="M84.7 4.9L93.4 10.7L87.4 16.5L80 12.5Q83.2 8.6 84.7 4.9Z" fill="url(#gGold)"/>
<path d="M80 12.6L87.4 16.6" stroke="#9c6206" stroke-width=".6"/>
<path d="M79.7 13.5L87.3 17.6L87 18.5L79.9 14.3Z" fill="#f8d860"/>
<path d="M109 3.6L116.8 3L120 5.6L112.5 6Z" fill="#1666d8"/>
<path d="M109 3.8L112.5 6V13L109 11Z" fill="#24a6ff"/>
<path d="M112.5 6L120 5.6V13H112.5Z" fill="url(#gBlue)"/>
<path d="M109 3.7L112.5 6V13M112.5 6L120 5.6" fill="none" stroke="#d8f0ff" stroke-width=".7"/>
<path d="M114.3 8.3L118.8 7.4V8.4L114.3 9.3Z" fill="#e4f2ff"/>
<path d="M109.4 18.5Q107.3 18.5 107.5 16.3Q107.7 14.3 110 14Q110.8 11.5 114.6 11.5Q117.6 11.6 118.4 13.3Q120 12.4 121.4 13.4Q122.8 14.6 122.4 16.6Q122.2 18.5 120.4 18.5Z" fill="url(#gCloud)" stroke="#3e5e9e" stroke-width="1"/>
<circle cx="143.1" cy="10.8" r="8" fill="#e6eef8" opacity=".55"/>
<path d="M143.6 10.8V18.9A8.1 8.1 0 0 0 144.6 2.8Z" fill="url(#gSig)"/>
<circle cx="143.1" cy="10.8" r="7.4" fill="none" stroke="#4a7ad8" stroke-width="1.1" opacity=".6"/>
<circle cx="143.1" cy="10.8" r="5.1" fill="none" stroke="#4a7ad8" stroke-width="1.1" opacity=".65"/>
<circle cx="143.1" cy="10.8" r="3" fill="none" stroke="#4a7ad8" stroke-width="1" opacity=".5"/>
<circle cx="143" cy="10.6" r="1.8" fill="#2250d0"/>
<path d="M143.5 10.9v8" stroke="#1a9c1a" stroke-width="1.3"/>
<path d="M162.4 10.4L177.7 9.6L170.6 18.4Q169.6 19.3 168.6 18.4Z" fill="url(#gYel)" stroke="#d8a010" stroke-width=".7"/>
<ellipse cx="170" cy="7.8" rx="7.9" ry="2.5" fill="#56aadc" stroke="#2c86b8" stroke-width=".7"/>
<path d="M166 7.4Q166.2 3 169.7 3Q173.2 3 173.4 7.4Q169.7 9 166 7.4Z" fill="url(#gHat)" stroke="#2c86b8" stroke-width=".6"/>
<path d="M167.4 6Q167.8 4 169.4 3.9" stroke="#c8ecff" stroke-width=".9" fill="none" opacity=".8"/>
<circle cx="174.6" cy="14.8" r="4.1" fill="url(#gRed)" stroke="#b81808" stroke-width=".4"/>
<rect x="173" y="13.2" width="3.1" height="3" fill="#fff"/>
<g font-family='"Liberation Sans","Noto Sans CJK SC",sans-serif' font-size="12" fill="#000" stroke="#000" stroke-width=".2">
<text x="31" y="14.2" textLength="36.5" lengthAdjust="spacingAndGlyphs">新订单</text>
<text x="183.6" y="14.2" textLength="47" lengthAdjust="spacingAndGlyphs">自动交易</text>
</g>
<rect x="238" y="0" width="1" height="23" fill="#a0a0a0"/>
<rect x="239" y="0" width="1" height="23" fill="#fff"/>
<rect x="242" y="1" width="3" height="1" fill="#a0a0a0"/>
<rect x="242" y="3" width="3" height="1" fill="#a0a0a0"/>
<rect x="242" y="5" width="3" height="1" fill="#a0a0a0"/>
<rect x="242" y="7" width="3" height="1" fill="#a0a0a0"/>
<rect x="242" y="9" width="3" height="1" fill="#a0a0a0"/>
<rect x="242" y="11" width="3" height="1" fill="#a0a0a0"/>
<rect x="242" y="13" width="3" height="1" fill="#a0a0a0"/>
<rect x="242" y="15" width="3" height="1" fill="#a0a0a0"/>
<rect x="242" y="17" width="3" height="1" fill="#a0a0a0"/>
<rect x="242" y="19" width="3" height="1" fill="#a0a0a0"/>
<rect x="256" y="5" width="1" height="14" fill="#505050"/>
<rect x="255" y="6" width="3" height="1" fill="#505050"/>
<rect x="254" y="16" width="14" height="1" fill="#505050"/>
<rect x="266" y="15" width="1" height="3" fill="#505050"/>
<rect x="262" y="6" width="1" height="8" fill="#109010"/>
<rect x="263" y="7" width="2" height="1" fill="#109010"/>
<rect x="260" y="13" width="2" height="1" fill="#109010"/>
<rect x="277" y="0" width="24" height="21" fill="url(#chk)"/>
<rect x="276" y="0" width="1" height="21" fill="#a0a0a0"/>
<rect x="301" y="0" width="1" height="22" fill="#fff"/>
<rect x="276" y="21" width="25" height="1" fill="#fff"/>
<rect x="284" y="5" width="1" height="14" fill="#505050"/>
<rect x="283" y="6" width="3" height="1" fill="#505050"/>
<rect x="282" y="16" width="14" height="1" fill="#505050"/>
<rect x="294" y="15" width="1" height="3" fill="#505050"/>
<rect x="290" y="3" width="1" height="12" fill="#0a8a0a"/>
<rect x="288.5" y="5.5" width="4" height="7" fill="url(#gG)" stroke="#0a8a0a"/>
<rect x="312" y="5" width="1" height="14" fill="#505050"/>
<rect x="311" y="6" width="3" height="1" fill="#505050"/>
<rect x="310" y="16" width="14" height="1" fill="#505050"/>
<rect x="322" y="15" width="1" height="3" fill="#505050"/>
<path d="M311 13.6q2.4 -.6 4 -3.4q1.8 -2.6 3.4 -1.6q1.4 .8 2.6 2.4q1.2 1.4 2.4 1.6" fill="none" stroke="#189818" stroke-width="1.1"/>
<rect x="333" y="0" width="1" height="21" fill="#a0a0a0"/>
<path d="M352.15000000000003 13.1l4.6 4.3" stroke="#b08410" stroke-width="3.5" stroke-linecap="butt"/>
<path d="M352.35 13.3l4.2 3.9" stroke="#f4da30" stroke-width="1.9" stroke-linecap="butt"/>
<circle cx="348.05" cy="9.1" r="5.45" fill="url(#gLens)" stroke="#2a68bc" stroke-width="1.05"/>
<path d="M344.25 8.799999999999999h7.3" stroke="#4a8cb8" stroke-width="1.9"/>
<path d="M347.85 5.199999999999999v7.4" stroke="#4a8cb8" stroke-width="1.9"/>
<path d="M380.1 13.1l4.6 4.3" stroke="#b08410" stroke-width="3.5" stroke-linecap="butt"/>
<path d="M380.3 13.3l4.2 3.9" stroke="#f4da30" stroke-width="1.9" stroke-linecap="butt"/>
<circle cx="376" cy="9.1" r="5.45" fill="url(#gLens)" stroke="#2a68bc" stroke-width="1.05"/>
<path d="M372.2 8.799999999999999h7.3" stroke="#4a8cb8" stroke-width="1.9"/>
<rect x="398" y="3" width="8" height="8" fill="url(#gGreenT)"/>
<rect x="399" y="4" width="1" height="1" fill="#fff" opacity=".8"/>
<rect x="399" y="6" width="6" height="4" fill="#fff"/>
<rect x="400" y="7" width="4" height="1" fill="#a4dc8c"/>
<rect x="400.2" y="9" width="3.6" height="1" fill="#3a9e1c"/>
<rect x="406" y="3" width="8" height="8" fill="url(#gBlueT)"/>
<rect x="407" y="4" width="1" height="1" fill="#fff" opacity=".8"/>
<rect x="407" y="6" width="6" height="4" fill="#fff"/>
<rect x="408" y="7" width="1.4" height="1" fill="#8aa8f0"/>
<rect x="410.4" y="7" width="1.6" height="1" fill="#8aa8f0"/>
<rect x="408.2" y="9" width="3.6" height="1" fill="#2a54cc"/>
<rect x="398" y="11" width="8" height="8" fill="url(#gBlueT)"/>
<rect x="399" y="12" width="1" height="1" fill="#fff" opacity=".8"/>
<rect x="399" y="14" width="6" height="4" fill="#fff"/>
<rect x="400" y="15" width="1.4" height="1" fill="#8aa8f0"/>
<rect x="402.4" y="15" width="1.6" height="1" fill="#8aa8f0"/>
<rect x="400.2" y="17" width="3.6" height="1" fill="#2a54cc"/>
<rect x="406" y="11" width="8" height="8" fill="url(#gGreenT)"/>
<rect x="407" y="12" width="1" height="1" fill="#fff" opacity=".8"/>
<rect x="407" y="14" width="6" height="4" fill="#fff"/>
<rect x="408" y="15" width="4" height="1" fill="#a4dc8c"/>
<rect x="408.2" y="17" width="3.6" height="1" fill="#3a9e1c"/>
<rect x="423" y="0" width="1" height="21" fill="#a0a0a0"/>
<rect x="429" y="0" width="23" height="21" fill="url(#chk)"/>
<rect x="428" y="0" width="1" height="21" fill="#a0a0a0"/>
<rect x="452" y="0" width="1" height="22" fill="#fff"/>
<rect x="428" y="21" width="24" height="1" fill="#fff"/>
<rect x="436" y="5" width="1" height="14" fill="#505050"/>
<rect x="435" y="6" width="3" height="1" fill="#505050"/>
<rect x="434" y="16" width="14" height="1" fill="#505050"/>
<rect x="446" y="15" width="1" height="3" fill="#505050"/>
<path d="M441.5 7.3v6.4l3.8 -3.2z" fill="#58d858" stroke="#109010" stroke-width="1"/>
<rect x="457" y="0" width="23" height="21" fill="url(#chk)"/>
<rect x="456" y="0" width="1" height="21" fill="#a0a0a0"/>
<rect x="480" y="0" width="1" height="22" fill="#fff"/>
<rect x="456" y="21" width="24" height="1" fill="#fff"/>
<rect x="464" y="5" width="1" height="14" fill="#505050"/>
<rect x="463" y="6" width="3" height="1" fill="#505050"/>
<rect x="462" y="16" width="14" height="1" fill="#505050"/>
<rect x="474" y="15" width="1" height="3" fill="#505050"/>
<rect x="470" y="5" width="1" height="10" fill="#1a6ab0"/>
<path d="M471.5 10.5l3 -2.6v1.8h1.8v1.6h-1.8v1.8z" fill="#e84a10"/>
<path d="M471.5 10.5h5" stroke="#e84a10" stroke-width="1"/>
<rect x="485" y="0" width="1" height="21" fill="#a0a0a0"/>
<path d="M495.5 3.5h8l3 3v10h-11z" fill="#fff" stroke="#787878"/>
<path d="M503.5 3.7v2.8h2.8" fill="#f4f4f4" stroke="#787878" stroke-width=".9"/>
<path d="M500 6.5q-2 0 -2 2v1.5q0 1 -1 1q1 0 1 1v1.5q0 2 2 2" fill="none" stroke="#6a6450" stroke-width="1"/>
<path d="M503.5 9.5h3v4h4v3h-4v4h-3v-4h-4v-3h4z" fill="url(#gPlus)" stroke="#0a8f14" stroke-width="1"/>
<path d="M504.4 10.4h1.2v4h-1.2zM500.4 14.4h9.2v.9h-9.2z" fill="#b8ffb8" opacity=".55"/>
<rect x="517" y="10" width="5" height="1" fill="#000"/>
<rect x="518" y="11" width="3" height="1" fill="#000"/>
<rect x="519" y="12" width="1" height="1" fill="#000"/>
<circle cx="540.9" cy="10.9" r="6.6" fill="#f2f2f2" stroke="url(#gClk)" stroke-width="2.8"/>
<circle cx="540.9" cy="10.9" r="7.9" fill="none" stroke="#0848a8" stroke-width=".4" opacity=".8"/>
<circle cx="545.2" cy="10.9" r=".35" fill="#888"/>
<circle cx="544.6" cy="13.1" r=".35" fill="#888"/>
<circle cx="543.0" cy="14.6" r=".35" fill="#888"/>
<circle cx="540.9" cy="15.2" r=".35" fill="#888"/>
<circle cx="538.8" cy="14.6" r=".35" fill="#888"/>
<circle cx="537.2" cy="13.1" r=".35" fill="#888"/>
<circle cx="536.6" cy="10.9" r=".35" fill="#888"/>
<circle cx="537.2" cy="8.8" r=".35" fill="#888"/>
<circle cx="538.8" cy="7.2" r=".35" fill="#888"/>
<circle cx="540.9" cy="6.6" r=".35" fill="#888"/>
<circle cx="543.0" cy="7.2" r=".35" fill="#888"/>
<circle cx="544.6" cy="8.7" r=".35" fill="#888"/>
<path d="M540.3 7.4v3.5h3.2" fill="none" stroke="#111" stroke-width="1.2"/>
<rect x="556" y="10" width="5" height="1" fill="#000"/>
<rect x="557" y="11" width="3" height="1" fill="#000"/>
<rect x="558" y="12" width="1" height="1" fill="#000"/>
<rect x="572.5" y="4.5" width="15" height="13" fill="#fff" stroke="#2a5cb8"/>
<rect x="573" y="5" width="14" height="2" fill="#4a8ae8"/>
<rect x="573" y="5" width="8" height="1" fill="#9cc4ff"/>
<rect x="573" y="11" width="14" height="1" fill="#2a5cb8"/>
<path d="M574.5 9.6h2l2 -1.2h2l1.4 1h1.6l1.6 -1.2" fill="none" stroke="#a82808" stroke-width="1.1"/>
<path d="M575 15.4h1.6l1.6 -1.2l1.8 1.2l2.2 -2l2.2 2" fill="none" stroke="#189028" stroke-width="1.1"/>
<rect x="595" y="10" width="5" height="1" fill="#000"/>
<rect x="596" y="11" width="3" height="1" fill="#000"/>
<rect x="597" y="12" width="1" height="1" fill="#000"/>
<rect x="606" y="0" width="1" height="23" fill="#a0a0a0"/>
<rect x="607" y="0" width="1" height="23" fill="#fff"/>
<rect x="610" y="1" width="3" height="1" fill="#a0a0a0"/>
<rect x="610" y="3" width="3" height="1" fill="#a0a0a0"/>
<rect x="610" y="5" width="3" height="1" fill="#a0a0a0"/>
<rect x="610" y="7" width="3" height="1" fill="#a0a0a0"/>
<rect x="610" y="9" width="3" height="1" fill="#a0a0a0"/>
<rect x="610" y="11" width="3" height="1" fill="#a0a0a0"/>
<rect x="610" y="13" width="3" height="1" fill="#a0a0a0"/>
<rect x="610" y="15" width="3" height="1" fill="#a0a0a0"/>
<rect x="610" y="17" width="3" height="1" fill="#a0a0a0"/>
<rect x="610" y="19" width="3" height="1" fill="#a0a0a0"/>
<rect x="617" y="0" width="24" height="21" fill="url(#chk)"/>
<rect x="616" y="0" width="1" height="21" fill="#a0a0a0"/>
<rect x="641" y="0" width="1" height="22" fill="#fff"/>
<rect x="616" y="21" width="25" height="1" fill="#fff"/>
<path d="M624.2 3.8v11.2l2.6 -2.4l2.7 5.6l1.9 -.9l-2.7 -5.5h3.5z" fill="#404040"/>
<rect x="649" y="11" width="6" height="1" fill="#404040"/>
<rect x="658" y="11" width="6" height="1" fill="#404040"/>
<rect x="656" y="4" width="1" height="6" fill="#404040"/>
<rect x="656" y="13" width="1" height="6" fill="#404040"/>
<rect x="656" y="11" width="1" height="1" fill="#b0b0b0"/>
<rect x="673" y="0" width="1" height="21" fill="#a0a0a0"/>
<rect x="690" y="5" width="1" height="13" fill="#404040"/>
<rect x="713" y="11" width="12" height="1" fill="#404040"/>
<path d="M741 17.8L753 5.8" stroke="#404040" stroke-width="1.1"/>
<g stroke="#404040" fill="none"><path d="M766.6 12.8L775 5M772 18L781.4 9.2" stroke-width=".8" stroke-dasharray="1.6 .6"/><path d="M769.6 10.4v7.2M772.7 9.4v5.4M775.8 7.3v6.2M778.9 3v7.2" stroke-width="1.15" stroke="#363636"/><path d="M767.6 17.2L769.6 14L771.2 15L772.7 11.2L774.3 12.6L775.8 9L777.4 10.4L778.9 6.2L780.6 5.4" stroke-width=".7"/></g>
<text x="777.6" y="19.9" font-family='"Liberation Sans",sans-serif' font-weight="bold" font-size="7" fill="#303030">E</text>
<rect x="796" y="4" width="1" height="1" fill="#404040"/>
<rect x="798" y="4" width="1" height="1" fill="#404040"/>
<rect x="800" y="4" width="1" height="1" fill="#404040"/>
<rect x="802" y="4" width="1" height="1" fill="#404040"/>
<rect x="804" y="4" width="1" height="1" fill="#404040"/>
<rect x="806" y="4" width="1" height="1" fill="#404040"/>
<rect x="808" y="4" width="1" height="1" fill="#404040"/>
<rect x="796" y="7" width="1" height="1" fill="#404040"/>
<rect x="798" y="7" width="1" height="1" fill="#404040"/>
<rect x="800" y="7" width="1" height="1" fill="#404040"/>
<rect x="802" y="7" width="1" height="1" fill="#404040"/>
<rect x="804" y="7" width="1" height="1" fill="#404040"/>
<rect x="806" y="7" width="1" height="1" fill="#404040"/>
<rect x="808" y="7" width="1" height="1" fill="#404040"/>
<rect x="796" y="11" width="1" height="1" fill="#404040"/>
<rect x="798" y="11" width="1" height="1" fill="#404040"/>
<rect x="800" y="11" width="1" height="1" fill="#404040"/>
<rect x="802" y="11" width="1" height="1" fill="#404040"/>
<rect x="804" y="11" width="1" height="1" fill="#404040"/>
<rect x="806" y="11" width="1" height="1" fill="#404040"/>
<rect x="808" y="11" width="1" height="1" fill="#404040"/>
<rect x="796" y="15" width="1" height="1" fill="#404040"/>
<rect x="798" y="15" width="1" height="1" fill="#404040"/>
<rect x="800" y="15" width="1" height="1" fill="#404040"/>
<rect x="802" y="15" width="1" height="1" fill="#404040"/>
<rect x="804" y="15" width="1" height="1" fill="#404040"/>
<text x="805.7" y="19.9" font-family='"Liberation Sans",sans-serif' font-weight="bold" font-size="7" fill="#303030">F</text>
<text x="826.4" y="16" font-family='"Liberation Sans",sans-serif' font-weight="bold" font-size="12.6" fill="#505050" textLength="8.4" lengthAdjust="spacingAndGlyphs">A</text>
<rect x="852" y="4" width="2" height="2" fill="#404040"/>
<rect x="856" y="5" width="1" height="1" fill="#404040"/>
<rect x="858" y="5" width="1" height="1" fill="#404040"/>
<rect x="860" y="5" width="1" height="1" fill="#404040"/>
<rect x="862" y="5" width="1" height="1" fill="#404040"/>
<rect x="864" y="5" width="1" height="1" fill="#404040"/>
<rect x="864" y="5" width="1" height="1" fill="#404040"/>
<rect x="864" y="7" width="1" height="1" fill="#404040"/>
<rect x="864" y="9" width="1" height="1" fill="#404040"/>
<rect x="864" y="11" width="1" height="1" fill="#404040"/>
<rect x="864" y="13" width="1" height="1" fill="#404040"/>
<rect x="864" y="15" width="1" height="1" fill="#404040"/>
<rect x="853" y="7" width="1" height="1" fill="#404040"/>
<rect x="853" y="9" width="1" height="1" fill="#404040"/>
<rect x="853" y="11" width="1" height="1" fill="#404040"/>
<rect x="853" y="13" width="1" height="1" fill="#404040"/>
<rect x="853" y="15" width="1" height="1" fill="#404040"/>
<rect x="853" y="17" width="1" height="1" fill="#404040"/>
<rect x="853" y="17" width="1" height="1" fill="#404040"/>
<rect x="855" y="17" width="1" height="1" fill="#404040"/>
<rect x="857" y="17" width="1" height="1" fill="#404040"/>
<rect x="859" y="17" width="1" height="1" fill="#404040"/>
<rect x="861" y="17" width="1" height="1" fill="#404040"/>
<rect x="863" y="17" width="1" height="1" fill="#404040"/>
<text x="855" y="15.8" font-family='"Liberation Sans",sans-serif' font-weight="bold" font-size="10.8" fill="#505050" textLength="8" lengthAdjust="spacingAndGlyphs">T</text>
<path d="M883.5 4.7L887 9H885V10.1H882V9H880Z" fill="#484848"/>
<path d="M882.1 12.2L884.4 14.6L889 9.2" fill="none" stroke="#484848" stroke-width="1.2"/>
<path d="M887.1 14.3H889.1V13.2H892V14.3H894L890.5 18Z" fill="#484848"/>
<rect x="901" y="10" width="5" height="1" fill="#000"/>
<rect x="902" y="11" width="3" height="1" fill="#000"/>
<rect x="903" y="12" width="1" height="1" fill="#000"/>
<rect x="912" y="0" width="1" height="23" fill="#a0a0a0"/>
<rect x="913" y="0" width="1" height="23" fill="#fff"/>
<rect x="916" y="1" width="3" height="1" fill="#a0a0a0"/>
<rect x="916" y="3" width="3" height="1" fill="#a0a0a0"/>
<rect x="916" y="5" width="3" height="1" fill="#a0a0a0"/>
<rect x="916" y="7" width="3" height="1" fill="#a0a0a0"/>
<rect x="916" y="9" width="3" height="1" fill="#a0a0a0"/>
<rect x="916" y="11" width="3" height="1" fill="#a0a0a0"/>
<rect x="916" y="13" width="3" height="1" fill="#a0a0a0"/>
<rect x="916" y="15" width="3" height="1" fill="#a0a0a0"/>
<rect x="916" y="17" width="3" height="1" fill="#a0a0a0"/>
<rect x="916" y="19" width="3" height="1" fill="#a0a0a0"/>
<rect x="1063" y="0" width="23" height="21" fill="url(#chk)"/>
<rect x="1062" y="0" width="1" height="21" fill="#a0a0a0"/>
<rect x="1086" y="0" width="1" height="22" fill="#fff"/>
<rect x="1062" y="21" width="24" height="1" fill="#fff"/>
<g class="ct" font-size="9" fill="#383838" stroke="#383838">
<text x="927.4" y="15" textLength="12.9" lengthAdjust="spacingAndGlyphs">M1</text>
<text x="955.6" y="15" textLength="12.5" lengthAdjust="spacingAndGlyphs">M5</text>
<text x="981.7" y="15" textLength="17.5" lengthAdjust="spacingAndGlyphs">M15</text>
<text x="1009.5" y="15" textLength="17.9" lengthAdjust="spacingAndGlyphs">M30</text>
<text x="1040.6" y="15" textLength="11.2" lengthAdjust="spacingAndGlyphs">H1</text>
<text x="1067.6" y="15" textLength="12.1" lengthAdjust="spacingAndGlyphs">H4</text>
<text x="1096.8" y="15" textLength="11.2" lengthAdjust="spacingAndGlyphs">D1</text>
<text x="1124" y="15" textLength="14.0" lengthAdjust="spacingAndGlyphs">W1</text>
<text x="1150.7" y="15" textLength="14.6" lengthAdjust="spacingAndGlyphs">MN</text>
</g>
<rect x="1173" y="0" width="1" height="23" fill="#a0a0a0"/>
<rect x="1174" y="0" width="1" height="23" fill="#fff"/>
<path d="M1640.6 12.1l-4.6 3.6" stroke="#2a5cd0" stroke-width="2.6" stroke-linecap="round"/>
<circle cx="1643.6" cy="8.7" r="4" fill="#f4f8ff" stroke="#2a5cd0" stroke-width="1.3"/>
<path d="M1660.6 13q0 -4.6 5 -4.6q5 0 5 4.2q0 4 -5 4q-.8 0 -1.4 -.1l-1.4 2.6l-.2 -3.2q-2 -1 -2 -2.9z" fill="#dcdce8" stroke="#b0b0bc" stroke-width=".7"/>
<circle cx="1674.3" cy="8.2" r="8.2" fill="url(#gRed)"/>
<text x="1673.6" y="12.8" text-anchor="middle" font-family='"Liberation Sans",sans-serif' font-size="12" fill="#fff">1</text>
</g>
</svg>
</body></html>
